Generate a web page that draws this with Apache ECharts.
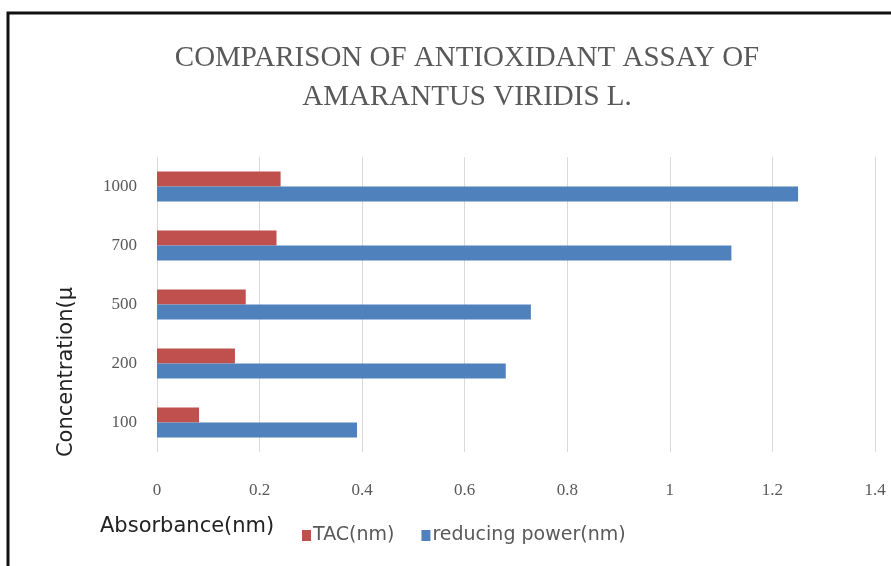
<!DOCTYPE html>
<html>
<head>
<meta charset="utf-8">
<script src="https://cdn.jsdelivr.net/npm/echarts@6/dist/echarts.min.js"></script>
<style>
  html, body { margin: 0; padding: 0; background: #fff; }
  #chart { width: 891px; height: 566px; }
</style>
</head>
<body>
<div id="chart"></div>
<script>
// concentrations, bottom to top
var categories = ['100', '200', '500', '700', '1000']
var tacValues = [0.082, 0.152, 0.173, 0.233, 0.241]
var reducingValues = [0.39, 0.68, 0.729, 1.12, 1.25]
var xTicks = [0, 0.2, 0.4, 0.6, 0.8, 1, 1.2, 1.4]

var chart = echarts.init(document.getElementById('chart'))

var option = {
  backgroundColor: '#fff',
  animation: false,
  title: {
    text: 'COMPARISON OF ANTIOXIDANT ASSAY OF\nAMARANTUS VIRIDIS L.',
    left: 462,
    top: 34,
    textAlign: 'center',
    textStyle: {
      fontFamily: 'Liberation Serif',
      fontWeight: 'normal',
      fontSize: 29,
      lineHeight: 39,
      color: '#595959'
    }
  },
  grid: {
    left: 157,
    right: 16,
    top: 157,
    bottom: 114
  },
  legend: {
    data: ['TAC(nm)', 'reducing power(nm)'],
    left: 297,
    top: 521,
    itemWidth: 9,
    itemHeight: 11,
    itemGap: 27,
    icon: 'rect',
    textStyle: {
      fontFamily: 'DejaVu Sans',
      fontSize: 19,
      color: '#595959',
      padding: [0, 0, 0, -3]
    }
  },
  xAxis: {
    type: 'value',
    min: 0,
    max: 1.4,
    interval: 0.2,
    axisLine: { show: false },
    axisTick: { show: false },
    splitLine: { show: true, lineStyle: { color: '#d9d9d9', width: 1 } },
    axisLabel: {
      margin: 30,
      fontFamily: 'Liberation Serif',
      fontSize: 17,
      color: '#595959',
      formatter: function(v) {
        var t = xTicks.find(function(x) { return Math.abs(x - v) < 1e-9 })
        return t === undefined ? '' : String(t)
      }
    }
  },
  yAxis: {
    type: 'category',
    data: categories,
    axisLine: { show: false },
    axisTick: { show: false },
    axisLabel: {
      margin: 20,
      fontFamily: 'Liberation Serif',
      fontSize: 17,
      color: '#595959'
    }
  },
  series: [
    {
      name: 'TAC(nm)',
      type: 'bar',
      data: tacValues,
      barWidth: 15,
      barGap: '0%',
      itemStyle: { color: '#c0504d' }
    },
    {
      name: 'reducing power(nm)',
      type: 'bar',
      data: reducingValues,
      barWidth: 15,
      barGap: '0%',
      itemStyle: { color: '#4f81bd' }
    }
  ],
  graphic: [
    {
      type: 'rect',
      shape: { x: 8, y: 13, width: 950, height: 650 },
      style: { fill: 'none', stroke: '#111', lineWidth: 3 }
    },
    {
      type: 'text',
      x: 67,
      y: 372,
      rotation: Math.PI / 2,
      style: {
        text: 'Concentration(\u00b5',
        fontFamily: 'DejaVu Sans',
        fontSize: 21,
        fill: '#222',
        align: 'center',
        verticalAlign: 'middle'
      }
    },
    {
      type: 'text',
      x: 100,
      y: 527,
      style: {
        text: 'Absorbance(nm)',
        fontFamily: 'DejaVu Sans',
        fontSize: 21,
        fill: '#222',
        align: 'left',
        verticalAlign: 'middle'
      }
    }
  ]
}

chart.setOption(option)
</script>
</body>
</html>
